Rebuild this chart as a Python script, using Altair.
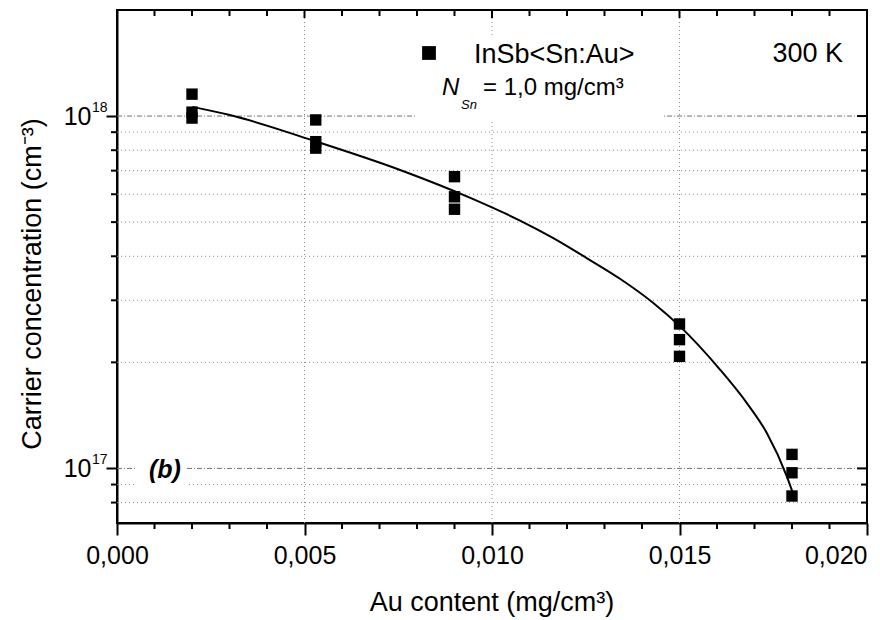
import altair as alt
import pandas as pd

# ---- data ----
au_content = [0.002, 0.002, 0.002,
              0.0053, 0.0053, 0.0053,
              0.009, 0.009, 0.009,
              0.015, 0.015, 0.015,
              0.018, 0.018, 0.018]
carrier = [1.154e18, 1.026e18, 0.987e18,
           9.75e17, 8.46e17, 8.11e17,
           6.73e17, 5.90e17, 5.44e17,
           2.57e17, 2.32e17, 2.08e17,
           1.096e17, 9.72e16, 8.35e16]

fit_x = [0.00201, 0.00301, 0.005325, 0.00755, 0.0095,
         0.010747, 0.011635, 0.012525, 0.013413, 0.014301,
         0.015013, 0.01608, 0.016792, 0.017325, 0.017859, 0.018019]
fit_y = [1.062e18, 1.0065e18, 8.456e17, 7.03e17, 5.81e17,
         5.051e17, 4.503e17, 3.953e17, 3.453e17, 2.948e17,
         2.530e17, 1.908e17, 1.535e17, 1.262e17, 9.51e16, 8.54e16]

x_major = [0.0, 0.005, 0.010, 0.015, 0.020]
x_minor = [0.001, 0.002, 0.003, 0.004, 0.006, 0.007, 0.008, 0.009,
           0.011, 0.012, 0.013, 0.014, 0.016, 0.017, 0.018, 0.019]
x_grid = [0.005, 0.010, 0.015]
y_major = [1e17, 1e18]
y_exp = ["17", "18"]
y_minor = [8e16, 9e16, 2e17, 3e17, 4e17, 5e17, 6e17, 7e17, 8e17, 9e17]

FONT = "Liberation Sans"
W, H = 750, 513

xs = alt.Scale(domain=[0, 0.02], nice=False, zero=False)
ys = alt.Scale(type="log", domain=[7e16, 2e18], nice=False)

x_axis = alt.Axis(
    values=x_major, tickSize=12, tickWidth=2, tickColor="black",
    domainColor="black", domainWidth=2, grid=False, title=None,
    labelExpr="replace(format(datum.value, '.3f'), '.', ',')",
    labelAlign={"condition": {"test": "datum.value >= 0.0199", "value": "right"}, "value": "center"},
    labelFont=FONT, labelFontSize=25, labelColor="black",
    labelPadding=8, labelFlush=False, labelOverlap=False)
y_axis = alt.Axis(
    values=y_major, tickSize=11, tickWidth=2, tickColor="black",
    domainColor="black", domainWidth=2, grid=False, title=None,
    labelExpr="'10'", labelFont=FONT, labelFontSize=25, labelColor="black",
    labelPadding=15, labelFlush=False, labelOverlap=False)

pts = pd.DataFrame({"x": au_content, "y": carrier})
fit = pd.DataFrame({"x": fit_x, "y": fit_y})
xmaj = pd.DataFrame({"x": x_major})
xmin = pd.DataFrame({"x": x_minor})
xgr = pd.DataFrame({"x": x_grid})
ymaj = pd.DataFrame({"y": y_major, "e": y_exp})
ymin = pd.DataFrame({"y": y_minor})
one = pd.DataFrame({"a": [0]})

def X(f="x"):
    return alt.X(f"{f}:Q", scale=xs, axis=x_axis)

def Y(f="y"):
    return alt.Y(f"{f}:Q", scale=ys, axis=y_axis)

# grids
grid_minor_y = alt.Chart(ymin).mark_rule(color="#8a8a8a", strokeWidth=1, strokeDash=[1, 3]).encode(
    y=Y(), x=alt.value(0), x2=alt.value(W))
grid_major_y = alt.Chart(ymaj).mark_rule(color="#707070", strokeWidth=1, strokeDash=[5, 2, 1, 2]).encode(
    y=Y(), x=alt.value(0), x2=alt.value(W))
grid_x = alt.Chart(xgr).mark_rule(color="#8a8a8a", strokeWidth=1, strokeDash=[1, 3]).encode(
    x=X(), y=alt.value(0), y2=alt.value(H))

# white boxes behind annotations
legend_bg = alt.Chart(one).mark_rect(color="white").encode(
    x=alt.value(298), x2=alt.value(545), y=alt.value(25), y2=alt.value(112))
b_bg = alt.Chart(one).mark_rect(color="white").encode(
    x=alt.value(18), x2=alt.value(69), y=alt.value(445), y2=alt.value(484))

curve = alt.Chart(fit).mark_line(color="black", strokeWidth=2, interpolate="monotone").encode(
    x=X(), y=Y())

points = alt.Chart(pts).mark_square(color="black", size=130, opacity=1).encode(
    x=X(), y=Y())

# y exponents
exps = alt.Chart(ymaj).mark_text(align="left", baseline="alphabetic", font=FONT,
                                 fontSize=14, color="black", dy=-4).encode(
    y=Y(), x=alt.value(-25), text="e:N")

# minor ticks (outside bottom/left, inside top/right)
tick_bottom = alt.Chart(xmin).mark_rule(color="black", strokeWidth=2).encode(
    x=X(), y=alt.value(H), y2=alt.value(H + 6))
tick_left = alt.Chart(ymin).mark_rule(color="black", strokeWidth=2).encode(
    y=Y(), x=alt.value(-6), x2=alt.value(0))
tick_top_min = alt.Chart(xmin).mark_rule(color="black", strokeWidth=2).encode(
    x=X(), y=alt.value(0), y2=alt.value(6))
tick_top_maj = alt.Chart(xmaj).mark_rule(color="black", strokeWidth=2).encode(
    x=X(), y=alt.value(0), y2=alt.value(8))
tick_right_min = alt.Chart(ymin).mark_rule(color="black", strokeWidth=2).encode(
    y=Y(), x=alt.value(W - 6), x2=alt.value(W))
tick_right_maj = alt.Chart(ymaj).mark_rule(color="black", strokeWidth=2).encode(
    y=Y(), x=alt.value(W - 10), x2=alt.value(W))

def label(text, x, y, size, align="left", style=None, weight=None, angle=None, baseline="alphabetic"):
    kw = dict(align=align, baseline=baseline, font=FONT, fontSize=size, color="black")
    if style:
        kw["fontStyle"] = style
    if weight:
        kw["fontWeight"] = weight
    if angle is not None:
        kw["angle"] = angle
    return alt.Chart(one).mark_text(**kw).encode(
        x=alt.value(x), y=alt.value(y), text=alt.value(text))

legend_sq = alt.Chart(one).mark_square(color="black", size=190, opacity=1).encode(
    x=alt.value(312), y=alt.value(43))

texts = [
    label("InSb<Sn:Au>", 357, 53, 27),
    label("300 K", 726, 52, 27, align="right"),
    label("N", 325, 85, 24, style="italic"),
    label("Sn", 344, 99, 13, style="italic"),
    label("= 1,0 mg/cm³", 366, 85, 24),
    label("(b)", 32, 468, 25, style="italic", weight="bold"),
    label("Au content (mg/cm³)", W / 2, 601, 27, align="center"),
    label("Carrier concentration (cm⁻³)", -76, 274, 27, align="center", angle=270),
]

chart = alt.layer(
    grid_minor_y, grid_major_y, grid_x, legend_bg, b_bg,
    curve, points, exps,
    tick_bottom, tick_left, tick_top_min, tick_top_maj, tick_right_min, tick_right_maj,
    legend_sq, *texts
).properties(
    width=W, height=H,
    padding={"left": 117, "top": 10, "right": 13, "bottom": 97},
    autosize=alt.AutoSizeParams(type="none"),
    background="white",
).configure_view(stroke="black", strokeWidth=2)

chart.save("out.html", embed_options={"renderer": "svg", "actions": False})
